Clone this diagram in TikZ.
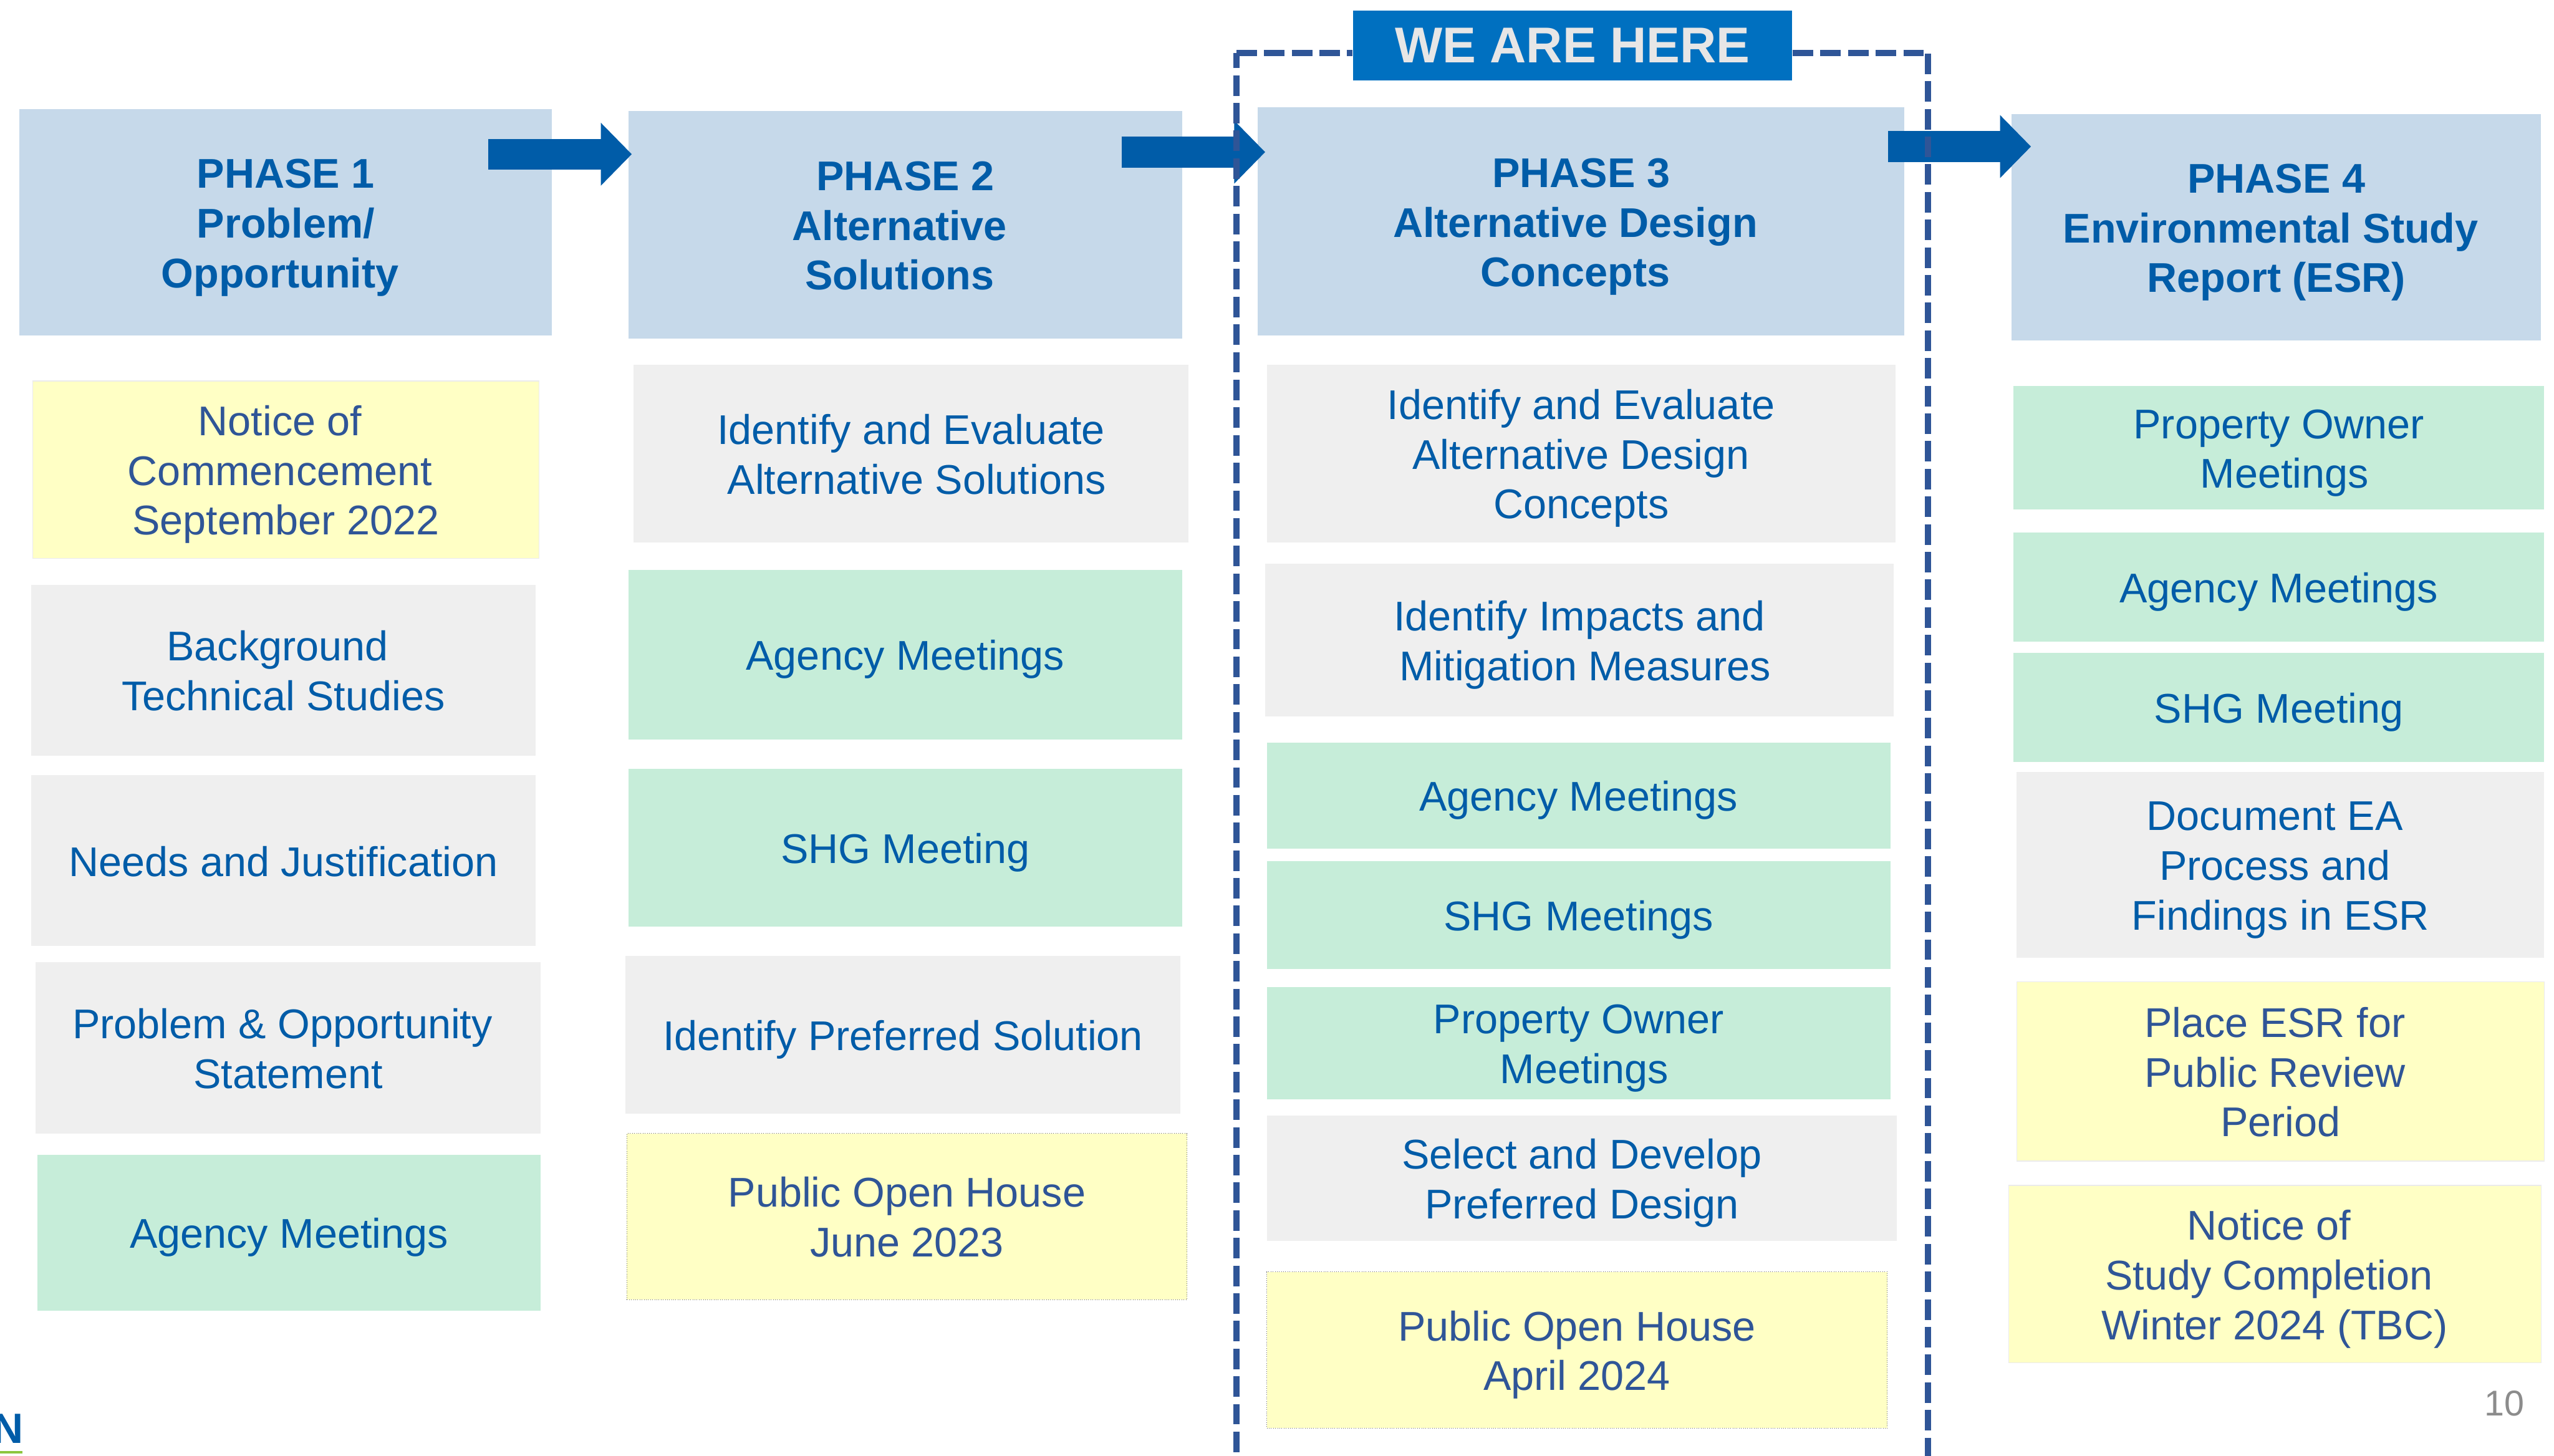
\documentclass[tikz,border=0pt]{standalone}
\usepackage{fontspec}
\setmainfont{Liberation Sans}
\usetikzlibrary{arrows.meta}
\definecolor{phasefill}{HTML}{C6D9EA}
\definecolor{greyfill}{HTML}{EFEFEF}
\definecolor{greenfill}{HTML}{C6EDD9}
\definecolor{yellowfill}{HTML}{FFFFC5}
\definecolor{bluetext}{HTML}{005CA8}
\definecolor{darktext}{HTML}{2F5597}
\definecolor{herefill}{HTML}{0070C0}
\definecolor{heretext}{HTML}{E7E6E6}
\definecolor{logogreen}{HTML}{8CC63F}
\newcommand{\gap}{\rule{7pt}{0pt}}
\tikzstyle{base} = [rectangle, inner sep=0pt, align=center, text=bluetext, font=\fontsize{25.5}{30.5}\selectfont, execute at begin node={\rule{0pt}{24.5pt}}, execute at end node={\rule[-5.4pt]{0pt}{0pt}}]
\tikzstyle{twolines} = [execute at begin node={\rule{0pt}{55pt}}]
\tikzstyle{threelines} = [execute at begin node={\rule{0pt}{85.5pt}}]
\tikzstyle{phase} = [base, threelines, fill=phasefill, font=\fontsize{25.5}{30.5}\selectfont\bfseries]
\tikzstyle{task} = [base, fill=greyfill]
\tikzstyle{meeting} = [base, fill=greenfill]
\tikzstyle{notice} = [base, fill=yellowfill, text=darktext, draw=black!8, line width=0.5pt]
\tikzstyle{house} = [base, twolines, fill=yellowfill, text=darktext, draw=black!60, densely dotted, line width=0.3pt]
\tikzstyle{phasearrow} = [draw=bluetext, line width=18.9pt, -{Triangle[length=19pt, width=37.5pt]}]
\tikzstyle{frame} = [draw=darktext, line width=3.8pt, dash pattern=on 12.6pt off 4.4pt]

\begin{document}
\begin{tikzpicture}[x=1pt, y=-1pt]
	\useasboundingbox (0,0) rectangle (1568.5,894);
	\node [phase, minimum width=327pt, minimum height=139pt] (phaseone) at (175.5,136.5) {PHASE 1 \\ Problem/ \\ Opportunity\gap};
	\node [phase, minimum width=340pt, minimum height=140pt] (phasetwo) at (556,138) {PHASE 2 \\ Alternative\gap \\ Solutions\gap};
	\node [phase, minimum width=397pt, minimum height=140pt] (phasethree) at (971,136) {PHASE 3 \\ Alternative Design\gap \\ Concepts\gap};
	\node [phase, minimum width=325pt, minimum height=139pt] (phasefour) at (1398,139.5) {PHASE 4 \\ Environmental Study\gap \\ Report (ESR)};

	\node [notice, threelines, minimum width=311pt, minimum height=109pt] (noticeone) at (175.5,288.5) {Notice of\gap \\ Commencement\gap \\ September 2022};
	\node [task, twolines, minimum width=310pt, minimum height=105pt] (background) at (174,411.5) {Background\gap \\ Technical Studies};
	\node [task, minimum width=310pt, minimum height=105pt] (needs) at (174,528.5) {Needs and Justification};
	\node [task, twolines, minimum width=310pt, minimum height=105pt] (problem) at (177,643.5) {Problem \& Opportunity\gap \\ Statement};
	\node [meeting, minimum width=309pt, minimum height=96pt] (agencyone) at (177.5,757) {Agency Meetings};

	\node [task, twolines, minimum width=341pt, minimum height=109pt] (solutions) at (559.5,278.5) {Identify and Evaluate \\ \gap Alternative Solutions};
	\node [meeting, minimum width=340pt, minimum height=104pt] (agencytwo) at (556,402) {Agency Meetings};
	\node [meeting, minimum width=340pt, minimum height=97pt] (shgtwo) at (556,520.5) {SHG Meeting};
	\node [task, minimum width=341pt, minimum height=97pt] (preferred) at (554.5,635.5) {Identify Preferred Solution};
	\node [house, minimum width=344pt, minimum height=102pt] (housetwo) at (557,747) {Public Open House \\ June 2023};

	\node [task, threelines, minimum width=386pt, minimum height=109pt] (concepts) at (971,278.5) {Identify and Evaluate \\ Alternative Design \\ Concepts};
	\node [task, twolines, minimum width=386pt, minimum height=94pt] (impacts) at (970,393) {Identify Impacts and \\ \gap Mitigation Measures};
	\node [meeting, minimum width=383pt, minimum height=65pt] (agencythree) at (969.5,488.5) {Agency Meetings};
	\node [meeting, minimum width=383pt, minimum height=66pt] (shgthree) at (969.5,562) {SHG Meetings};
	\node [meeting, twolines, minimum width=383pt, minimum height=69pt] (ownerthree) at (969.5,640.5) {Property Owner \\ \gap Meetings};
	\node [task, twolines, minimum width=387pt, minimum height=77pt] (select) at (971.5,723.5) {Select and Develop \\ Preferred Design};
	\node [house, minimum width=381pt, minimum height=96pt] (housethree) at (968.5,829) {Public Open House \\ April 2024};

	\node [meeting, twolines, minimum width=326pt, minimum height=76pt] (ownerfour) at (1399.5,275) {Property Owner \\ \gap Meetings};
	\node [meeting, minimum width=326pt, minimum height=67pt] (agencyfour) at (1399.5,360.5) {Agency Meetings};
	\node [meeting, minimum width=326pt, minimum height=67pt] (shgfour) at (1399.5,434.5) {SHG Meeting};
	\node [task, threelines, minimum width=324pt, minimum height=114pt] (findings) at (1400.5,531) {Document EA\gap \\ Process and\gap \\ Findings in ESR};
	\node [notice, threelines, minimum width=324pt, minimum height=110pt] (review) at (1400.5,658) {Place ESR for\gap \\ Public Review\gap \\ Period};
	\node [notice, threelines, minimum width=327pt, minimum height=109pt] (completion) at (1397,782.5) {Notice of\gap \\ Study Completion\gap \\ Winter 2024 (TBC)};

	\coordinate (arrowonestart) at (300,94.7);
	\coordinate (arrowoneend) at (388,94.7);
	\coordinate (arrowtwostart) at (688.7,93.4);
	\coordinate (arrowtwoend) at (777,93.4);
	\coordinate (arrowthreestart) at (1159.7,90);
	\coordinate (arrowthreeend) at (1247.3,90);
	\draw [phasearrow] (arrowonestart) -- (arrowoneend);
	\draw [phasearrow] (arrowtwostart) -- (arrowtwoend);
	\draw [phasearrow] (arrowthreestart) -- (arrowthreeend);

	\node [rectangle, fill=herefill, text=heretext, inner sep=0pt, minimum width=269.5pt, minimum height=43pt, font=\fontsize{30.9}{36}\selectfont\bfseries] (here) at (965.7,27.9) {WE ARE HERE};
	\coordinate (frametopleft) at (759.3,32.5);
	\coordinate (frametopright) at (1181.5,32.5);
	\coordinate (frameleftstart) at (759.3,32.5);
	\coordinate (framerightstart) at (1184,32.9);
	\coordinate (framebottomleft) at (759.3,896);
	\coordinate (framebottomright) at (1184,896);
	\draw [frame] (frametopleft) -- (frametopleft -| here.west);
	\draw [frame] (frametopright) -- (frametopright -| here.east);
	\draw [frame, dash phase=3.3pt] (frameleftstart) -- (framebottomleft);
	\draw [frame] (framerightstart) -- (framebottomright);

	\node [text=black!45, inner sep=0pt, font=\fontsize{22}{26}\selectfont] (pagenumber) at (1538,862) {10};
	\node [anchor=base east, text=bluetext, inner sep=0pt, font=\fontsize{26}{30}\selectfont\bfseries] (logoletter) at (14.7,886.2) {N};
	\coordinate (logobarstart) at (0,891.9);
	\coordinate (logobarend) at (13.8,891.9);
	\draw [draw=logogreen, line width=1.3pt] (logobarstart) -- (logobarend);
\end{tikzpicture}
\end{document}
